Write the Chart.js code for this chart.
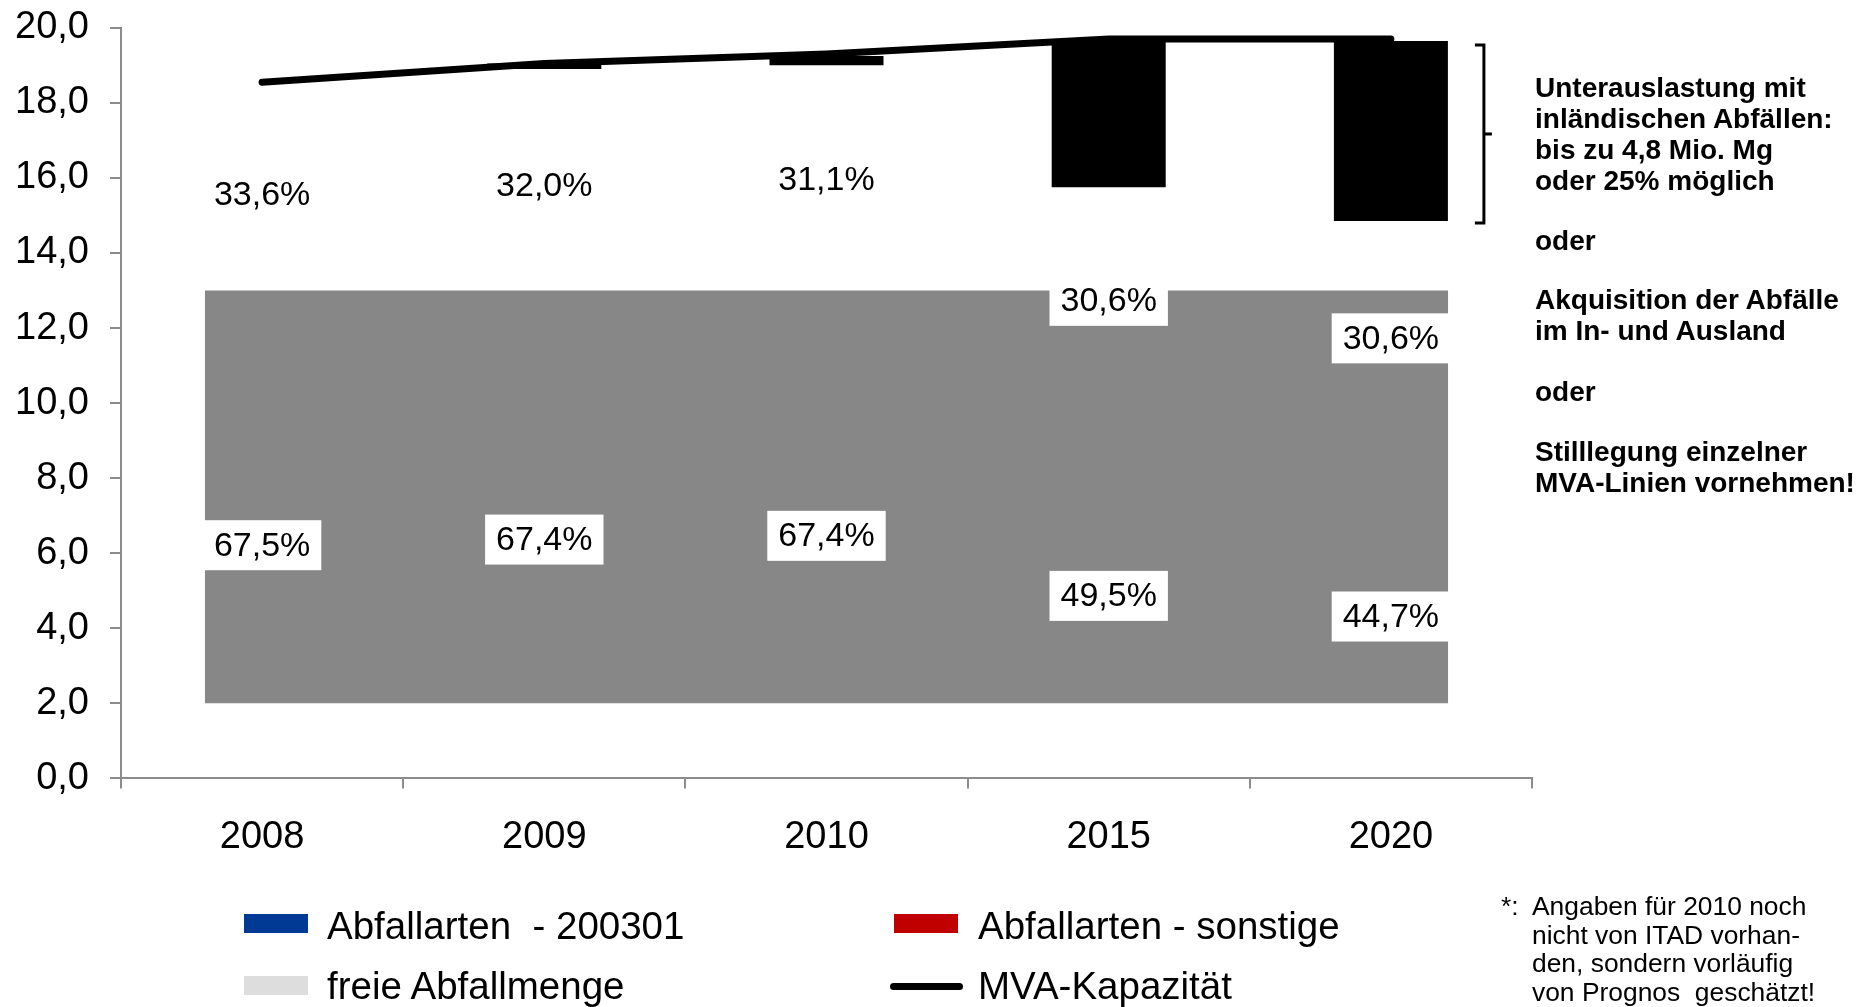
<!DOCTYPE html>
<html>
<head>
<meta charset="utf-8">
<script src="https://cdn.jsdelivr.net/npm/chart.js@4"></script>
<style>
	body { margin: 0; background: #fff; overflow: hidden; font-family: "Liberation Sans", Arial, sans-serif; color: #000; }
	#wrap { position: relative; width: 1874px; height: 1007px; overflow: hidden; }
	#wrap canvas { position: absolute; left: 0; top: -16px; }
	.note { position: absolute; left: 1535px; font-weight: bold; font-size: 28px; line-height: 31px; white-space: nowrap; }
	.leg { position: absolute; font-size: 38.5px; line-height: 44px; white-space: nowrap; }
	.box { position: absolute; width: 64px; height: 19px; }
	.foot { position: absolute; font-size: 26.4px; line-height: 28.7px; white-space: nowrap; }
</style>
</head>
<body>
<div id="wrap">
	<canvas id="myChart" width="1874" height="1023"></canvas>

	<div class="note" style="top: 72px;">Unterauslastung mit<br>inländischen Abfällen:<br>bis zu 4,8 Mio. Mg<br>oder 25% möglich</div>
	<div class="note" style="top: 225px;">oder</div>
	<div class="note" style="top: 284px;">Akquisition der Abfälle<br>im In- und Ausland</div>
	<div class="note" style="top: 376px;">oder</div>
	<div class="note" style="top: 436px;">Stilllegung einzelner<br>MVA-Linien vornehmen!</div>

	<div class="box" style="left: 244px; top: 914px; background: #003a94;"></div>
	<div class="leg" style="left: 327px; top: 904px;">Abfallarten&nbsp; - 200301</div>
	<div class="box" style="left: 894px; top: 914px; background: #c00000;"></div>
	<div class="leg" style="left: 978px; top: 904px;">Abfallarten - sonstige</div>
	<div class="box" style="left: 244px; top: 976px; background: #dddddd;"></div>
	<div class="leg" style="left: 327px; top: 964px;">freie Abfallmenge</div>
	<div class="box" style="left: 890px; top: 983px; width: 73px; height: 7px; border-radius: 4px; background: #000;"></div>
	<div class="leg" style="left: 978px; top: 964px;">MVA-Kapazität</div>

	<div class="foot" style="left: 1501px; top: 892px;">*:</div>
	<div class="foot" style="left: 1532px; top: 892px;">Angaben für 2010 noch<br>nicht von ITAD vorhan-<br>den, sondern vorläufig<br>von Prognos&nbsp; geschätzt!</div>
</div>

<script>
// Mio. Mg
const categories = ['2008', '2009', '2010', '2015', '2020'];
const abfall200301 = [12.4, 12.7, 12.9, 9.7, 8.6];
const abfallSonstige = [6.3, 6.2, 6.1, 6.05, 6.25];
const freieMenge = [0, 0.15, 0.25, 3.9, 4.8];
const kapazitaet = [18.55, 19.05, 19.3, 19.7, 19.7];
const anteil200301 = ['67,5%', '67,4%', '67,4%', '49,5%', '44,7%'];
const anteilSonstige = ['33,6%', '32,0%', '31,1%', '30,6%', '30,6%'];
// grey block that covers the columns in the picture
const grauerBlock = [[2, 13]];

const yTicks = [0, 2, 4, 6, 8, 10, 12, 14, 16, 18, 20];

const axisGrey = '#8c8c8c';

// white boxed percent labels in the middle of the blue / red segments
const percentLabels = {
	id: 'percentLabels',
	afterDatasetsDraw(chart) {
		const ctx = chart.ctx;
		const sets = [[0, anteil200301], [1, anteilSonstige]];
		ctx.save();
		ctx.font = '34px "Liberation Sans", Arial, sans-serif';
		ctx.textAlign = 'center';
		ctx.textBaseline = 'middle';
		sets.forEach(([dsIndex, texts]) => {
			const meta = chart.getDatasetMeta(dsIndex);
			meta.data.forEach((bar, i) => {
				const cy = (bar.y + bar.base) / 2;
				const w = ctx.measureText(texts[i]).width + 22;
				const h = 50;
				ctx.fillStyle = '#ffffff';
				ctx.fillRect(bar.x - w / 2, cy - h / 2, w, h);
				ctx.fillStyle = '#000000';
				ctx.fillText(texts[i], bar.x, cy + 1);
			});
		});
		ctx.restore();
	}
};

// bracket next to the last free segment
const bracket = {
	id: 'bracket',
	afterDraw(chart) {
		const meta = chart.getDatasetMeta(2);
		const bar = meta.data[meta.data.length - 1];
		const ctx = chart.ctx;
		const x = bar.x + bar.width / 2 + 36;
		const top = bar.y + 4;
		const bottom = bar.base + 2;
		const mid = (top + bottom) / 2;
		ctx.save();
		ctx.strokeStyle = '#000';
		ctx.lineWidth = 3;
		ctx.beginPath();
		ctx.moveTo(x - 9, top);
		ctx.lineTo(x, top);
		ctx.lineTo(x, bottom);
		ctx.lineTo(x - 9, bottom);
		ctx.moveTo(x, mid);
		ctx.lineTo(x + 8, mid);
		ctx.stroke();
		ctx.restore();
	}
};

const ctx = document.getElementById('myChart').getContext('2d');

new Chart(ctx, {
	type: 'bar',
	data: {
		labels: categories,
		datasets: [
			{
				label: 'Abfallarten  - 200301',
				data: abfall200301,
				backgroundColor: 'rgba(0,0,0,0)',
				stack: 'abfall',
				grouped: false,
				order: 2
			},
			{
				label: 'Abfallarten - sonstige',
				data: abfallSonstige,
				backgroundColor: 'rgba(0,0,0,0)',
				stack: 'abfall',
				grouped: false,
				order: 2
			},
			{
				label: 'freie Abfallmenge',
				data: freieMenge,
				backgroundColor: '#000000',
				stack: 'abfall',
				grouped: false,
				order: 2
			},
			{
				label: 'block',
				data: grauerBlock,
				xAxisID: 'x2',
				backgroundColor: '#878787',
				stack: 'abfall',
				grouped: false,
				barPercentage: 0.881,
				categoryPercentage: 1,
				order: 1
			},
			{
				type: 'line',
				label: 'MVA-Kapazität',
				data: kapazitaet,
				borderColor: '#000000',
				borderWidth: 7,
				borderCapStyle: 'round',
				pointRadius: 0,
				tension: 0,
				fill: false,
				order: 0
			}
		]
	},
	options: {
		responsive: false,
		animation: false,
		barPercentage: 0.404,
		categoryPercentage: 1,
		layout: {
			padding: { left: 15, right: 342, top: 7, bottom: 121 }
		},
		plugins: {
			legend: { display: false },
			tooltip: { enabled: false }
		},
		scales: {
			x: {
				stacked: true,
				grid: {
					drawOnChartArea: false,
					color: axisGrey,
					lineWidth: 2,
					tickLength: 10
				},
				border: { color: axisGrey, width: 2 },
				ticks: {
					color: '#000',
					padding: 26,
					font: { family: '"Liberation Sans", Arial, sans-serif', size: 38 }
				}
			},
			x2: {
				type: 'category',
				labels: [''],
				display: false,
				offset: true,
				stacked: true
			},
			y: {
				stacked: true,
				min: 0,
				max: 20,
				afterBuildTicks: (scale) => {
					scale.ticks = yTicks.map((v) => ({ value: v }));
				},
				afterFit: (scale) => {
					scale.width = 106;
				},
				grid: {
					drawOnChartArea: false,
					color: axisGrey,
					lineWidth: 2,
					tickLength: 11
				},
				border: { color: axisGrey, width: 2 },
				ticks: {
					color: '#000',
					padding: 21,
					callback: (value) => value.toFixed(1).replace('.', ','),
					font: { family: '"Liberation Sans", Arial, sans-serif', size: 38 }
				}
			}
		}
	},
	plugins: [percentLabels, bracket]
});
</script>
</body>
</html>
